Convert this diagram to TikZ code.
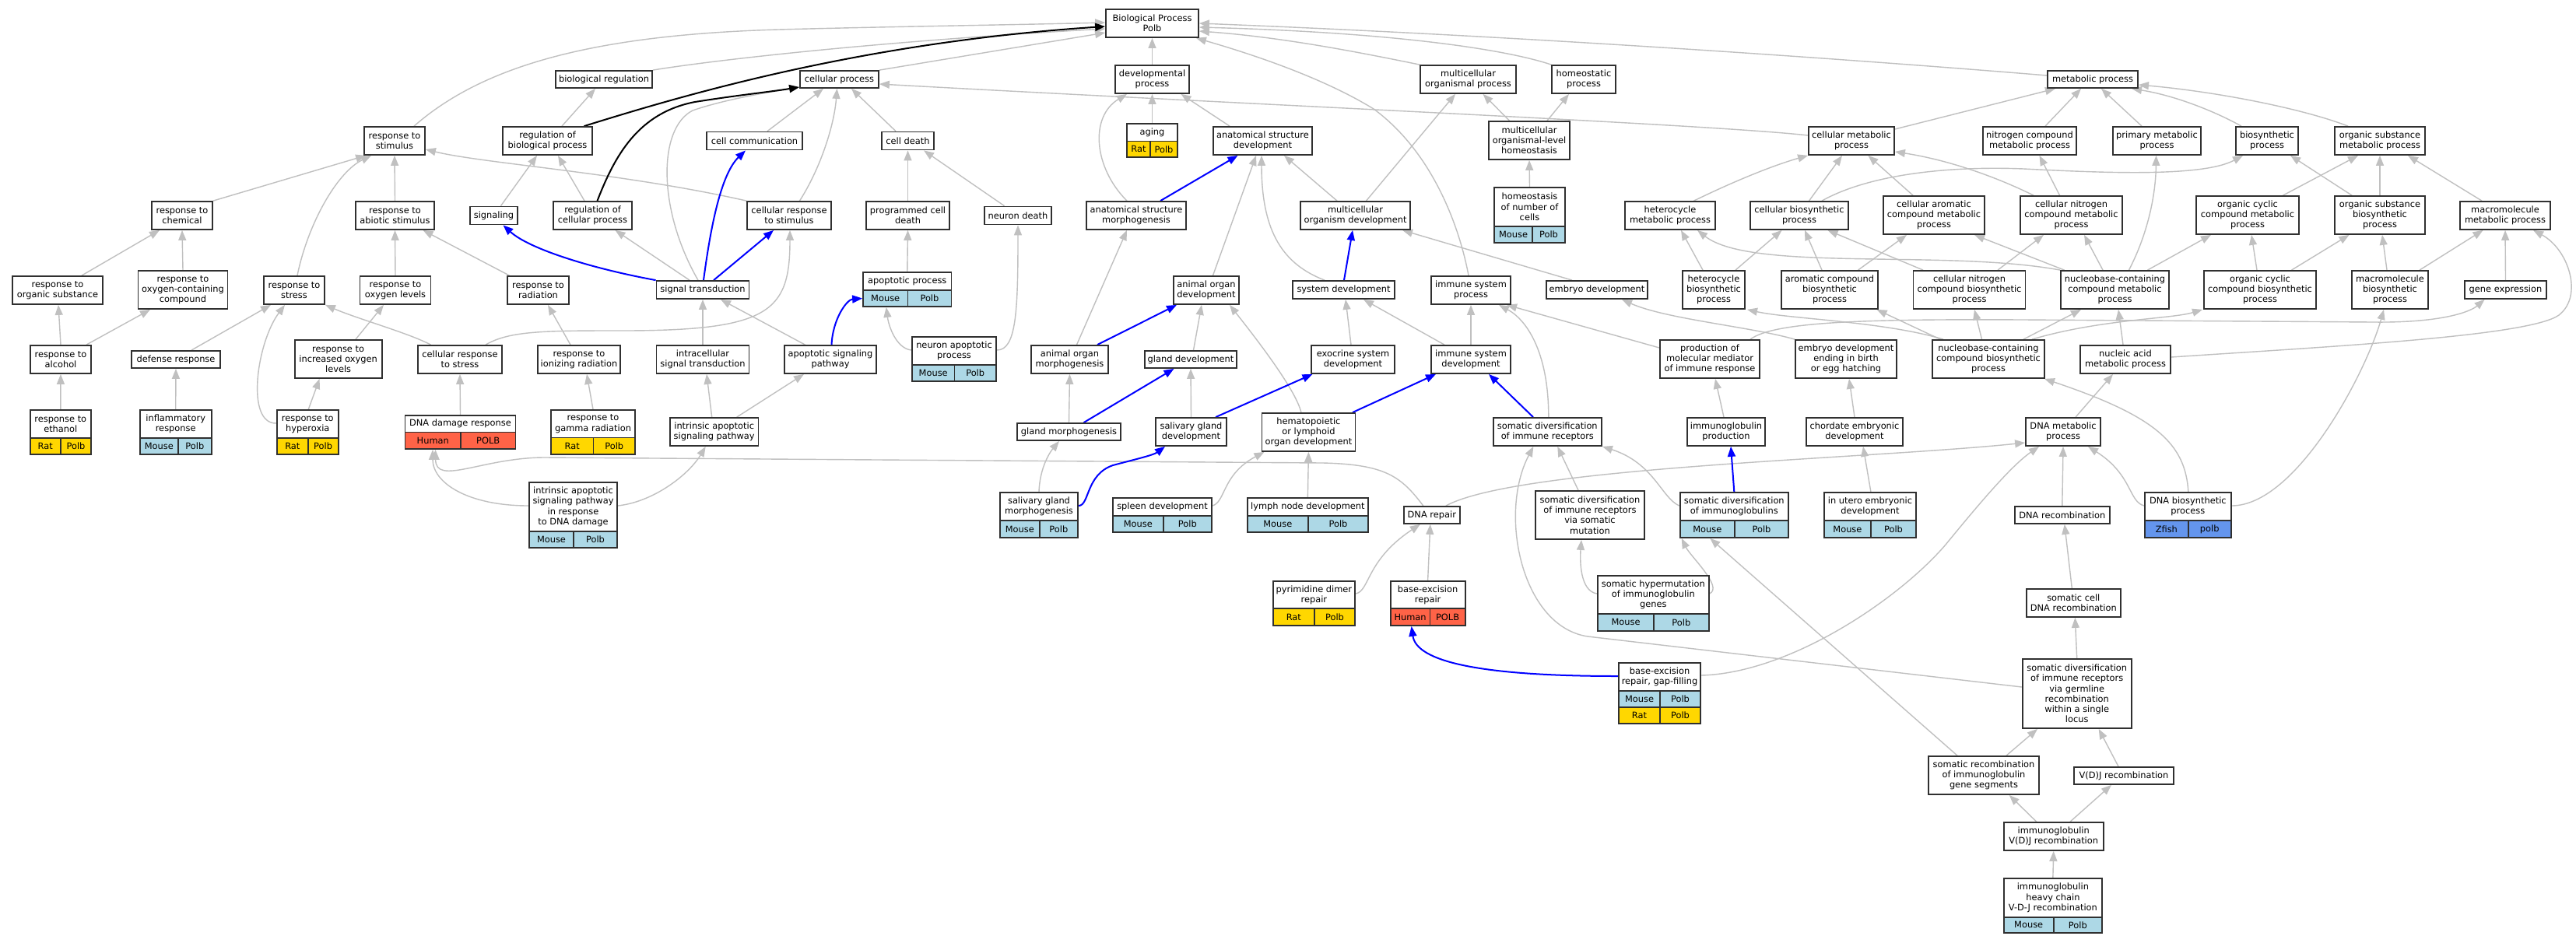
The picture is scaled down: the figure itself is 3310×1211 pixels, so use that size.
\documentclass[tikz,border=0pt]{standalone}
\usepackage{fontspec}
\setmainfont{DejaVu Sans}
\usetikzlibrary{arrows.meta}
\pgfdeclarelayer{bg}
\pgfdeclarelayer{edges}
\pgfsetlayers{bg,edges,main}
\definecolor{edgegray}{HTML}{C0C0C0}
\definecolor{ratc}{HTML}{FFD700}
\definecolor{mousec}{HTML}{ADD8E6}
\definecolor{humanc}{HTML}{FF6347}
\definecolor{zfishc}{HTML}{6495ED}
\definecolor{boxc}{HTML}{303030}
\newcommand{\gofont}{\fontsize{11.4}{13.2}\selectfont}
\tikzset{
  gobox/.style={draw=boxc, line width=1.8pt, fill=white, inner sep=0pt, align=center, font=\gofont},
  outerbox/.style={draw=boxc, line width=1.8pt, inner sep=0pt},
  txt/.style={inner sep=0pt, align=center, font=\gofont},
  cellline/.style={draw=boxc, line width=1.8pt},
  eg/.style={draw=edgegray, line width=1.4pt, -{Triangle[length=13pt,width=10pt]}},
  eb/.style={draw=blue, line width=2pt, -{Triangle[length=13pt,width=10pt]}},
  ek/.style={draw=black, line width=2pt, -{Triangle[length=13pt,width=10pt]}}
}
\def\rowparse#1/#2/#3\relax{\def\rcol{#1}\def\rsp{#2}\def\rgn{#3}}
\newcommand{\gnode}[6]{\node[gobox, minimum width=#4pt, minimum height=#5pt] (#1) at (#2,#3) {#6};}
\newcommand{\anode}[9]{%
  \rowparse#9\relax
  \fill[white] (#2,#4) rectangle (#3,#5);
  \fill[fill=\rcol] (#2,#5) rectangle (#3,#6);
  \node[txt] (#1-t) at ({(#2+#3)/2},{(#4+#5)/2}) {#8};
  \node[txt] (#1-s) at ({(#2+#7)/2},{(#5+#6)/2}) {\rsp};
  \node[txt] (#1-g) at ({(#7+#3)/2},{(#5+#6)/2}) {\rgn};
  \draw[cellline] (#2,#5) -- (#3,#5) (#7,#5) -- (#7,#6);
  \node[outerbox, minimum width={(#3-#2)*1pt}, minimum height={(#6-#4)*1pt}] (#1) at ({(#2+#3)/2},{(#4+#6)/2}) {};
}
\begin{document}
\begin{tikzpicture}[x=1pt,y=-1pt]
\begin{pgfonlayer}{bg}
\fill[white] (0,0) rectangle (3310,1211);
\end{pgfonlayer}
\useasboundingbox (0,0) rectangle (3310,1211);

% ---------- nodes ----------
\gnode{BP}{1480.5}{30}{119}{36}{Biological Process\\Polb}
\gnode{bioreg}{776}{102}{124}{22}{biological regulation}
\gnode{cellproc}{1078.5}{102}{101}{22}{cellular process}
\gnode{devproc}{1480.5}{102}{95}{36}{developmental\\process}
\gnode{mcop}{1886.5}{102}{123}{36}{multicellular\\organismal process}
\gnode{homeo}{2035}{102}{82}{36}{homeostatic\\process}
\gnode{metab}{2689}{102}{116}{22}{metabolic process}

\gnode{respstim}{507}{181}{78}{36}{response to\\stimulus}
\gnode{regbio}{703.5}{181}{115}{36}{regulation of\\biological process}
\gnode{cellcomm}{969.5}{181}{123}{23}{cell communication}
\gnode{celldeath}{1166.5}{181}{67}{23}{cell death}
\anode{aging}{1448}{1513}{159}{181.5}{202}{1478}{aging}{ratc/Rat/Polb}
\gnode{asd}{1622.5}{181}{127}{36}{anatomical structure\\development}
\gnode{mcolh}{1965}{180.5}{104}{49}{multicellular\\organismal-level\\homeostasis}
\gnode{cmp}{2379}{181}{110}{36}{cellular metabolic\\process}
\gnode{ncmp}{2608}{181}{120}{36}{nitrogen compound\\metabolic process}
\gnode{pmp}{2771.5}{181}{113}{36}{primary metabolic\\process}
\gnode{biosyn}{2913}{181}{80}{36}{biosynthetic\\process}
\gnode{osmp}{3058}{181}{116}{36}{organic substance\\metabolic process}

\gnode{respchem}{234}{277}{78}{36}{response to\\chemical}
\gnode{respabio}{507.5}{277}{101}{36}{response to\\abiotic stimulus}
\gnode{signaling}{634.5}{277}{61}{23}{signaling}
\gnode{regcell}{761.5}{277}{101}{36}{regulation of\\cellular process}
\gnode{crstim}{1014}{277}{108}{36}{cellular response\\to stimulus}
\gnode{pcd}{1166.5}{277}{107}{36}{programmed cell\\death}
\gnode{neurondeath}{1308}{277}{86}{23}{neuron death}
\gnode{asm}{1460}{277}{128}{36}{anatomical structure\\morphogenesis}
\gnode{mcod}{1741.5}{277}{141}{36}{multicellular\\organism development}
\anode{hnc}{1920}{2011}{241}{290.6}{312}{1969}{homeostasis\\of number of\\cells}{mousec/Mouse/Polb}
\gnode{hmp}{2146}{277}{116}{36}{heterocycle\\metabolic process}
\gnode{cbp}{2312}{277}{126}{36}{cellular biosynthetic\\process}
\gnode{cacmp}{2485}{276.5}{130}{49}{cellular aromatic\\compound metabolic\\process}
\gnode{cncmp}{2661.5}{276.5}{131}{49}{cellular nitrogen\\compound metabolic\\process}
\gnode{occmp}{2888}{276.5}{132}{49}{organic cyclic\\compound metabolic\\process}
\gnode{osbp}{3058}{276.5}{116}{49}{organic substance\\biosynthetic\\process}
\gnode{mmp}{3219}{277}{116}{36}{macromolecule\\metabolic process}

\gnode{respos}{74}{373}{116}{36}{response to\\organic substance}
\gnode{respocc}{235}{372.5}{115}{49}{response to\\oxygen-containing\\compound}
\gnode{respstress}{378}{373}{78}{36}{response to\\stress}
\gnode{respol}{508}{373}{91}{36}{response to\\oxygen levels}
\gnode{resprad}{691.5}{373}{79}{36}{response to\\radiation}
\gnode{sigtrans}{903}{372.5}{119}{23}{signal transduction}
\anode{apoproc}{1109}{1222.5}{350}{373}{394}{1166.4}{apoptotic process}{mousec/Mouse/Polb}
\gnode{aod}{1550}{373}{84}{36}{animal organ\\development}
\gnode{sysdev}{1726.5}{372.5}{131}{23}{system development}
\gnode{isp}{1890}{373}{102}{36}{immune system\\process}
\gnode{embdev}{2052}{372.5}{130}{23}{embryo development}
\gnode{hbp}{2202}{372.5}{79.5}{49}{heterocycle\\biosynthetic\\process}
\gnode{acbp}{2351}{372.5}{124}{49}{aromatic compound\\biosynthetic\\process}
\gnode{cncbp}{2530.5}{372.5}{144}{49}{cellular nitrogen\\compound biosynthetic\\process}
\gnode{nbcmp}{2717.5}{372.5}{139}{49}{nucleobase-containing\\compound metabolic\\process}
\gnode{occbp}{2904}{372.5}{144}{49}{organic cyclic\\compound biosynthetic\\process}
\gnode{mbp}{3071}{372.5}{98.5}{49}{macromolecule\\biosynthetic\\process}
\gnode{geneexp}{3219.5}{372.5}{105}{23}{gene expression}

\gnode{respalc}{78}{462}{78}{36}{response to\\alcohol}
\gnode{defresp}{226}{462}{113.5}{22}{defense response}
\gnode{respiol}{434.6}{461.5}{112}{49}{response to\\increased oxygen\\levels}
\gnode{crstress}{591}{462}{107.5}{36}{cellular response\\to stress}
\gnode{respir}{744}{462}{106}{36}{response to\\ionizing radiation}
\gnode{ist}{903}{462}{119}{36}{intracellular\\signal transduction}
\gnode{asp}{1067}{462}{118}{36}{apoptotic signaling\\pathway}
\anode{nap}{1172}{1280}{433}{469}{490}{1226.4}{neuron apoptotic\\process}{mousec/Mouse/Polb}
\gnode{aom}{1374.5}{462}{99}{36}{animal organ\\morphogenesis}
\gnode{glanddev}{1530}{462}{118}{22}{gland development}
\gnode{esd}{1738.5}{462}{107}{36}{exocrine system\\development}
\gnode{isd}{1890}{462}{102}{36}{immune system\\development}
\gnode{pmm}{2197}{461.5}{128}{49}{production of\\molecular mediator\\of immune response}
\gnode{edeb}{2372}{461.5}{130}{49}{embryo development\\ending in birth\\or egg hatching}
\gnode{nbcbp}{2555}{461.5}{144.4}{49}{nucleobase-containing\\compound biosynthetic\\process}
\gnode{namp}{2731}{462}{116}{36}{nucleic acid\\metabolic process}

\anode{respeth}{38.6}{117}{527}{563}{584}{78}{response to\\ethanol}{ratc/Rat/Polb}
\anode{inflam}{179.6}{271.8}{527}{563}{584}{229}{inflammatory\\response}{mousec/Mouse/Polb}
\anode{resphyp}{356}{434.6}{527}{563}{584}{395.7}{response to\\hyperoxia}{ratc/Rat/Polb}
\anode{dnadr}{520.5}{662.5}{534}{555.5}{577}{592}{DNA damage response}{humanc/Human/POLB}
\anode{respgr}{708}{816}{527}{562.5}{584}{762.5}{response to\\gamma radiation}{ratc/Rat/Polb}
\gnode{iasp}{917.7}{555}{113.5}{36}{intrinsic apoptotic\\signaling pathway}
\gnode{glandmorph}{1373.5}{555}{133}{22}{gland morphogenesis}
\gnode{sgd}{1530.5}{555}{91}{36}{salivary gland\\development}
\gnode{holod}{1681.4}{555.5}{120}{49}{hematopoietic\\or lymphoid\\organ development}
\gnode{sdir}{1988.3}{555}{139.4}{36}{somatic diversification\\of immune receptors}
\gnode{igprod}{2218}{555}{100}{36}{immunoglobulin\\production}
\gnode{ced}{2383}{555}{124}{36}{chordate embryonic\\development}
\gnode{dnamp}{2651}{555}{96}{36}{DNA metabolic\\process}

\anode{iadna}{680}{793}{620}{682.7}{704}{737}{intrinsic apoptotic\\signaling pathway\\in response\\to DNA damage}{mousec/Mouse/Polb}
\anode{sgm}{1285}{1385}{633}{669}{691}{1335.7}{salivary gland\\morphogenesis}{mousec/Mouse/Polb}
\anode{spleen}{1430}{1557}{640}{662.7}{684}{1494.6}{spleen development}{mousec/Mouse/Polb}
\anode{lymph}{1602.7}{1758}{640}{662.7}{684}{1681}{lymph node development}{mousec/Mouse/Polb}
\gnode{dnarep}{1839.8}{662}{72.4}{22}{DNA repair}
\gnode{sdirsm}{2043}{662}{140}{62}{somatic diversification\\of immune receptors\\via somatic\\mutation}
\anode{sdig}{2158.6}{2298}{633}{669}{691}{2229}{somatic diversification\\of immunoglobulins}{mousec/Mouse/Polb}
\anode{iued}{2343.8}{2462}{633}{669}{691}{2404}{in utero embryonic\\development}{mousec/Mouse/Polb}
\gnode{dnarec}{2649.8}{662}{121.7}{22}{DNA recombination}
\anode{dnabp}{2756}{2866.7}{633}{669}{691}{2811.7}{DNA biosynthetic\\process}{zfishc/Zfish/polb}

\anode{pdr}{1635.7}{1741}{747}{782}{804}{1689}{pyrimidine dimer\\repair}{ratc/Rat/Polb}
\anode{ber}{1786.6}{1882.6}{747}{782}{804}{1837.5}{base-excision\\repair}{humanc/Human/POLB}
\anode{shig}{2053}{2195.6}{740}{788.7}{811}{2125}{somatic hypermutation\\of immunoglobulin\\genes}{mousec/Mouse/Polb}
\gnode{scdr}{2664.3}{775}{121.3}{36}{somatic cell\\DNA recombination}

% base-excision repair, gap-filling (two annotation rows)
\fill[white] (2080,852) rectangle (2185,887.7);
\fill[mousec] (2080,887.7) rectangle (2185,909);
\fill[ratc] (2080,909) rectangle (2185,930);
\node[txt] (bergf-t) at (2132.5,869.8) {base-excision\\repair, gap-filling};
\node[txt] (bergf-s1) at (2106.5,898.4) {Mouse};
\node[txt] (bergf-g1) at (2159,898.4) {Polb};
\node[txt] (bergf-s2) at (2106.5,919.5) {Rat};
\node[txt] (bergf-g2) at (2159,919.5) {Polb};
\draw[cellline] (2080,887.7) -- (2185,887.7) (2080,909) -- (2185,909) (2133,887.7) -- (2133,930);
\node[outerbox, minimum width=105pt, minimum height=78pt] (bergf) at (2132.5,891) {};

\gnode{sdirgr}{2668.7}{891.5}{140}{89}{somatic diversification\\of immune receptors\\via germline\\recombination\\within a single\\locus}
\gnode{srig}{2549}{996.5}{142}{49}{somatic recombination\\of immunoglobulin\\gene segments}
\gnode{vdj}{2729}{997}{128}{22}{V(D)J recombination}
\gnode{igvdj}{2638.7}{1075}{128}{36}{immunoglobulin\\V(D)J recombination}
\anode{ighc}{2574.7}{2701}{1129}{1178.7}{1199}{2638.7}{immunoglobulin\\heavy chain\\V-D-J recombination}{mousec/Mouse/Polb}

% ---------- edges ----------
\begin{pgfonlayer}{edges}
% into Biological Process
\draw[eg] ([xshift=25pt]respstim.north) .. controls (620,85) and (760,45) .. (1000,38) .. controls (1150,34) and (1300,32) .. ([yshift=1pt]BP.west);
\draw[eg] (bioreg.north east) .. controls (900,80) and (1100,55) .. ([yshift=-7pt]BP.west);
\draw[eg] (cellproc.north east) -- ([yshift=-12pt]BP.west);
\draw[eg] (devproc.north) -- (BP.south);
\draw[eg] (mcop.north west) .. controls (1750,68) and (1650,48) .. ([yshift=-10pt]BP.east);
\draw[eg] (homeo.north west) .. controls (1940,65) and (1800,42) .. ([yshift=-5pt]BP.east);
\draw[eg] ([yshift=5pt]metab.west) .. controls (2450,82) and (2000,48) .. (BP.east);
\draw[eg] ([xshift=-3pt]isp.north) .. controls (1875,290) and (1840,195) .. (1765,140) .. controls (1700,100) and (1610,70) .. ([xshift=-4pt]BP.south east);
% stimulus branch
\draw[eg] (respchem.north east) -- ([xshift=3pt]respstim.south west);
\draw[eg] ([xshift=4pt]respstress.north) .. controls (395,290) and (432,222) .. ([xshift=-30pt]respstim.south);
\draw[eg] (respabio.north) -- (respstim.south);
\draw[eg] (crstim.north west) .. controls (800,222) and (620,210) .. ([yshift=-11pt]respstim.east);
\draw[eg] ([xshift=31pt]respos.north) -- ([xshift=-29pt]respchem.south);
\draw[eg] (respocc.north) -- (respchem.south);
\draw[eg] (respalc.north) -- ([xshift=1pt]respos.south);
\draw[eg] ([xshift=33pt]respalc.north) -- ([xshift=-42pt]respocc.south);
\draw[eg] (respeth.north) -- (respalc.south);
\draw[eg] ([xshift=20pt]defresp.north) -- ([xshift=-30pt]respstress.south);
\draw[eg] (inflam.north) -- (defresp.south);
\draw[eg] ([yshift=11.5pt]resphyp.west) .. controls (315,545) and (330,440) .. ([xshift=-12pt]respstress.south);
\draw[eg] ([xshift=1pt]resphyp.north) -- ([xshift=-24pt]respiol.south);
\draw[eg] ([xshift=22.4pt]respiol.north) -- ([xshift=-15pt]respol.south);
\draw[eg] (respol.north) -- (respabio.south);
\draw[eg] ([xshift=-37.5pt]crstress.north) .. controls (525,428) and (460,410) .. (respstress.south east);
\draw[eg] ([xshift=-37pt]resprad.north) -- ([xshift=36pt]respabio.south);
% regulation / signalling
\draw[eg] ([xshift=18.5pt]regbio.north) -- ([xshift=-11pt]bioreg.south);
\draw[eg] ([xshift=9pt]signaling.north) -- ([xshift=-13.5pt]regbio.south);
\draw[eg] ([xshift=-10.5pt]regcell.north) -- ([xshift=13.5pt]regbio.south);
\draw[eg] ([xshift=-17pt]sigtrans.north) -- ([xshift=29pt]regcell.south);
\draw[eg] ([xshift=-6pt]sigtrans.north) .. controls (845,270) and (845,165) .. (890,142) .. controls (930,128) and (990,118) .. ([yshift=-10pt]cellproc.west);
\draw[eg] ([xshift=16.5pt]cellcomm.north) -- ([xshift=-20.5pt]cellproc.south);
\draw[eg] ([xshift=13.5pt]crstim.north) .. controls (1055,215) and (1072,160) .. ([xshift=-3pt]cellproc.south);
\draw[eg] ([xshift=33pt]crstress.north) .. controls (655,425) and (700,425) .. (800,425) .. controls (990,425) and (1015,400) .. ([xshift=1pt]crstim.south);
\draw[eg] ([xshift=-11pt]respir.north) -- ([xshift=12.5pt]resprad.south);
\draw[eg] (respgr.north) -- ([xshift=10pt]respir.south);
\draw[eg] (ist.north) -- (sigtrans.south);
\draw[eg] ([xshift=-32.5pt]asp.north) -- ([xshift=23pt]sigtrans.south);
\draw[eg] ([xshift=-3pt]iasp.north) -- ([xshift=5pt]ist.south);
\draw[eg] ([xshift=29pt]iasp.north) -- ([xshift=-34pt]asp.south);
\draw[eg] (dnadr.north) -- (crstress.south);
\draw[eg] ([yshift=12pt]iadna.west) .. controls (600,650) and (556,620) .. ([xshift=-35.5pt]dnadr.south);
\draw[eg] ([yshift=12pt]iadna.east) .. controls (840,645) and (885,610) .. ([xshift=-11pt]iasp.south);
\draw[eg] ([xshift=-11pt]dnarep.north) .. controls (1800,612) and (1780,597) .. (1700,595) -- (700,588) .. controls (620,588) and (560,625) .. ([xshift=-32pt]dnadr.south);
% cell death
\draw[eg] ([xshift=-15.5pt]celldeath.north) -- ([xshift=15.5pt]cellproc.south);
\draw[eg] (pcd.north) -- (celldeath.south);
\draw[eg] ([xshift=-17.5pt]neurondeath.north) -- ([xshift=20.5pt]celldeath.south);
\draw[eg] (apoproc.north) -- (pcd.south);
\draw[eg] ([yshift=11.5pt]nap.west) .. controls (1152,448) and (1142,420) .. ([xshift=-27pt]apoproc.south);
\draw[eg] ([yshift=11.5pt]nap.east) .. controls (1306,450) and (1308,400) .. (neurondeath.south);
% development
\draw[eg] (aging.north) -- (devproc.south);
\draw[eg] ([xshift=-12pt]asm.north) .. controls (1405,215) and (1400,150) .. ([xshift=-32.5pt]devproc.south);
\draw[eg] ([xshift=-42.5pt]asd.north) -- ([xshift=37pt]devproc.south);
\draw[eg] ([xshift=8.5pt]aod.north) -- ([xshift=-8.5pt]asd.south);
\draw[eg] ([xshift=9pt]aom.north) -- ([xshift=-12pt]asm.south);
\draw[eg] ([xshift=3.5pt]glanddev.north) -- ([xshift=-6pt]aod.south);
\draw[eg] (glandmorph.north) -- (aom.south);
\draw[eg] (sgd.north) -- (glanddev.south);
\draw[eg] ([xshift=-9.5pt]holod.north) .. controls (1665,500) and (1610,430) .. ([xshift=30pt]aod.south);
\draw[eg] ([xshift=-24.5pt]sysdev.north) .. controls (1650,340) and (1621,300) .. ([xshift=-1.5pt]asd.south);
\draw[eg] ([xshift=-23.5pt]mcod.north) -- ([xshift=27.5pt]asd.south);
\draw[eg] ([xshift=14pt]mcod.north) -- ([xshift=-16.5pt]mcop.south);
\draw[eg] ([xshift=-25.5pt]mcolh.north) -- ([xshift=19pt]mcop.south);
\draw[eg] ([xshift=23pt]mcolh.north) -- ([xshift=-19pt]homeo.south);
\draw[eg] (hnc.north) -- (mcolh.south);
\draw[eg] ([xshift=-2.5pt]esd.north) -- ([xshift=2.5pt]sysdev.south);
\draw[eg] ([xshift=-34pt]isd.north) -- ([xshift=25.5pt]sysdev.south);
\draw[eg] (isd.north) -- (isp.south);
\draw[eg] ([xshift=1.5pt]sdir.north) .. controls (1990,450) and (1960,410) .. ([xshift=36pt]isp.south);
\draw[eg] ([yshift=14.5pt]pmm.west) -- ([xshift=46pt]isp.south);
\draw[eg] ([xshift=-32pt]embdev.north) -- ([xshift=60.5pt]mcod.south);
\draw[eg] (edeb.north west) .. controls (2250,420) and (2140,410) .. ([xshift=32pt]embdev.south);
\draw[eg] (ced.north) -- ([xshift=4pt]edeb.south);
\draw[eg] ([xshift=1pt]iued.north) -- ([xshift=11pt]ced.south);
\draw[eg] ([xshift=-3pt]igprod.north) -- ([xshift=7pt]pmm.south);
% metabolism
\draw[eg] ([yshift=7pt]cmp.west) .. controls (2200,160) and (1600,134) .. ([yshift=-6pt]cellproc.east);
\draw[eg] ([yshift=15pt]cmp.east) -- ([xshift=-48pt]metab.south);
\draw[eg] ([xshift=20pt]ncmp.north) -- ([xshift=-15pt]metab.south);
\draw[eg] ([xshift=-19.5pt]pmp.north) -- ([xshift=11pt]metab.south);
\draw[eg] ([xshift=-33pt]biosyn.north) .. controls (2840,140) and (2790,122) .. ([xshift=50pt]metab.south);
\draw[eg] ([xshift=-41pt]osmp.north) .. controls (2960,140) and (2850,118) .. ([yshift=-7pt]metab.east);
\draw[eg] ([xshift=30.5pt]hmp.north) .. controls (2230,232) and (2280,212) .. (cmp.south west);
\draw[eg] ([xshift=12.5pt]cbp.north) -- ([xshift=-12pt]cmp.south);
\draw[eg] ([xshift=-27pt]cacmp.north) -- ([xshift=21.5pt]cmp.south);
\draw[eg] ([xshift=-48.5pt]cncmp.north) .. controls (2560,225) and (2500,205) .. ([yshift=-14pt]cmp.east);
\draw[eg] ([xshift=-15pt]cncmp.north) -- ([xshift=12.5pt]ncmp.south);
\draw[eg] ([xshift=29pt]cbp.north) .. controls (2400,225) and (2500,213) .. (2600,217) .. controls (2700,222) and (2830,228) .. ([xshift=-31pt]biosyn.south);
\draw[eg] ([xshift=-14pt]hbp.north) -- ([xshift=14pt]hmp.south);
\draw[eg] ([xshift=28pt]hbp.north) -- ([xshift=-22.5pt]cbp.south);
\draw[eg] (nbcmp.north west) .. controls (2500,320) and (2250,350) .. ([xshift=35pt]hmp.south);
\draw[eg] ([xshift=-10pt]acbp.north) -- ([xshift=7pt]cbp.south);
\draw[eg] ([xshift=36.5pt]acbp.north) -- ([xshift=-35pt]cacmp.south);
\draw[eg] ([xshift=-59.5pt]cncbp.north) -- ([xshift=36.5pt]cbp.south);
\draw[eg] ([xshift=36.5pt]cncbp.north) -- ([xshift=-35.5pt]cncmp.south);
\draw[eg] ([xshift=-65pt]nbcmp.north) -- ([xshift=52pt]cacmp.south);
\draw[eg] ([xshift=-15.5pt]nbcmp.north) -- ([xshift=16.5pt]cncmp.south);
\draw[eg] ([xshift=42pt]nbcmp.north) -- ([xshift=-47pt]occmp.south);
\draw[eg] ([xshift=18pt]nbcmp.north) .. controls (2760,300) and (2770,250) .. ([xshift=-1pt]pmp.south);
\draw[eg] ([xshift=45.5pt]occmp.north) -- ([xshift=-28pt]osmp.south);
\draw[eg] (osbp.north) -- (osmp.south);
\draw[eg] ([xshift=-36pt]osbp.north) -- ([xshift=30pt]biosyn.south);
\draw[eg] ([xshift=-30pt]mmp.north) -- ([xshift=36pt]osmp.south);
\draw[eg] ([xshift=-4pt]occbp.north) -- ([xshift=5pt]occmp.south);
\draw[eg] ([xshift=40.5pt]occbp.north) -- ([xshift=-39.5pt]osbp.south);
\draw[eg] ([xshift=-4pt]mbp.north) -- ([xshift=3pt]osbp.south);
\draw[eg] ([xshift=38pt]mbp.north) -- ([xshift=-28.5pt]mmp.south);
\draw[eg] (geneexp.north) -- (mmp.south);
\draw[eg] ([yshift=3pt]namp.east) .. controls (3000,445) and (3250,432) .. (3288,405) .. controls (3320,380) and (3300,320) .. ([xshift=36pt]mmp.south);
\draw[eg] ([xshift=52pt]pmm.north) .. controls (2280,413) and (2400,410) .. (2600,411) -- (3050,414) .. controls (3140,415) and (3175,400) .. ([xshift=-27pt]geneexp.south);
\draw[eg] ([xshift=56pt]nbcbp.north) .. controls (2700,410) and (2790,410) .. ([xshift=-74pt]occbp.south);
\draw[eg] ([xshift=-58pt]nbcbp.north) .. controls (2420,413) and (2300,410) .. ([xshift=43pt]hbp.south);
\draw[eg] ([xshift=-62pt]nbcbp.north) -- ([xshift=60.5pt]acbp.south);
\draw[eg] ([xshift=-8.5pt]nbcbp.north) -- ([xshift=6.5pt]cncbp.south);
\draw[eg] ([xshift=45pt]nbcbp.north) -- ([xshift=-43.5pt]nbcmp.south);
\draw[eg] ([xshift=-3pt]namp.north) -- ([xshift=4.5pt]nbcmp.south);
\draw[eg] ([xshift=16pt]dnamp.north) -- ([xshift=-16pt]namp.south);
\draw[eg] ([xshift=18pt]dnarep.north) .. controls (1950,600) and (2400,590) .. ([yshift=-14pt]dnamp.west);
\draw[eg] (dnarec.north) -- (dnamp.south);
\draw[eg] ([yshift=12pt]dnabp.west) .. controls (2735,645) and (2740,610) .. ([xshift=32pt]dnamp.south);
\draw[eg] ([yshift=12pt]dnabp.east) .. controls (2950,650) and (3040,480) .. ([xshift=-8pt]mbp.south);
\draw[eg] ([xshift=0.5pt]dnabp.north) .. controls (2808,570) and (2770,535) .. ([xshift=72pt]nbcbp.south);
% recombination / immune diversification
\draw[eg] ([xshift=-2pt]scdr.north) -- ([xshift=3pt]dnarec.south);
\draw[eg] (sdirgr.north) -- ([xshift=2pt]scdr.south);
\draw[eg] ([yshift=23pt]bergf.east) .. controls (2300,865) and (2440,770) .. (2500,700) .. controls (2545,645) and (2585,598) .. ([xshift=-31pt]dnamp.south);
\draw[eg] ([yshift=8.5pt]sdirgr.west) -- (2040,818) .. controls (1955,805) and (1925,660) .. ([xshift=-18pt]sdir.south);
\draw[eg] ([xshift=-15pt]sdirsm.north) -- ([xshift=13pt]sdir.south);
\draw[eg] ([yshift=12pt]sdig.west) .. controls (2135,640) and (2125,595) .. (sdir.south east);
\draw[eg] ([yshift=12.5pt]shig.west) .. controls (2030,760) and (2030,720) .. ([xshift=-11pt]sdirsm.south);
\draw[eg] ([yshift=12.5pt]shig.east) .. controls (2215,755) and (2172,715) .. ([xshift=3pt]sdig.south west);
\draw[eg] ([xshift=-34pt]srig.north) -- ([xshift=-31pt]sdig.south);
\draw[eg] ([xshift=29pt]srig.north) -- ([xshift=-50.7pt]sdirgr.south);
\draw[eg] ([xshift=-7pt]vdj.north) -- ([xshift=28pt]sdirgr.south);
\draw[eg] ([xshift=-22pt]igvdj.north) -- ([xshift=32.7pt]srig.south);
\draw[eg] ([xshift=21.3pt]igvdj.north) -- ([xshift=-16pt]vdj.south);
\draw[eg] (ighc.north) -- (igvdj.south);
\draw[eg] (sgm.north) .. controls (1336,600) and (1350,580) .. ([xshift=-12.5pt]glandmorph.south);
\draw[eg] ([yshift=12pt]spleen.east) .. controls (1575,645) and (1570,610) .. ([xshift=4pt]holod.south west);
\draw[eg] (lymph.north) -- (holod.south);
\draw[eg] ([yshift=12.5pt]pdr.east) .. controls (1760,760) and (1755,720) .. ([xshift=-15pt]dnarep.south);
\draw[eg] (ber.north) -- ([xshift=-2pt]dnarep.south);
% coloured edges on top
\draw[ek] ([xshift=47pt]regbio.north) .. controls (870,125) and (1100,55) .. ([yshift=-4pt]BP.west);
\draw[ek] ([xshift=6pt]regcell.north) .. controls (790,200) and (820,145) .. (893,131) .. controls (950,122) and (990,118) .. ([yshift=-10pt]cellproc.west);
\draw[eb] (sigtrans.north west) .. controls (760,345) and (680,320) .. ([xshift=12pt]signaling.south);
\draw[eb] ([xshift=1pt]sigtrans.north) .. controls (912,300) and (925,225) .. ([xshift=-11.5pt]cellcomm.south);
\draw[eb] ([xshift=14pt]sigtrans.north) -- ([xshift=-20pt]crstim.south);
\draw[eb] ([xshift=1.5pt]asp.north) .. controls (1070,410) and (1088,385) .. ([yshift=-11.5pt]apoproc.west);
\draw[eb] ([xshift=31pt]asm.north) -- ([xshift=-32pt]asd.south);
\draw[eb] ([xshift=35.5pt]aom.north) -- ([xshift=-38pt]aod.south);
\draw[eb] ([xshift=19pt]glandmorph.north) -- ([xshift=-21.5pt]glanddev.south);
\draw[eb] ([xshift=31.5pt]sgd.north) -- ([xshift=-52pt]esd.south);
\draw[eb] ([xshift=0.5pt]sysdev.north) -- ([xshift=-3.5pt]mcod.south);
\draw[eb] ([xshift=56.5pt]holod.north) -- ([xshift=-45pt]isd.south);
\draw[eb] ([xshift=-18.3pt]sdir.north) -- ([xshift=23pt]isd.south);
\draw[eb] (sdig.north) -- ([xshift=6pt]igprod.south);
\draw[eb] ([yshift=12pt]sgm.east) .. controls (1400,650) and (1395,610) .. (1430,598) .. controls (1460,590) and (1482,585) .. ([xshift=-33.5pt]sgd.south);
\draw[eb] ([yshift=22pt]bergf.west) .. controls (1900,869) and (1820,850) .. ([xshift=-21pt]ber.south);
\end{pgfonlayer}
\end{tikzpicture}
\end{document}
